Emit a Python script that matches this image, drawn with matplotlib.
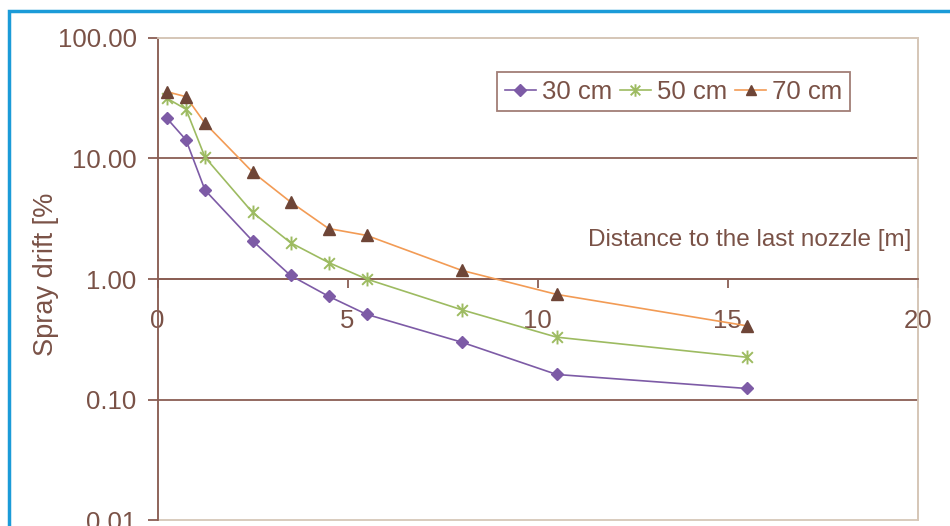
import matplotlib
matplotlib.use("Agg")
import matplotlib.pyplot as plt
from matplotlib.path import Path
from matplotlib.patches import Rectangle
from matplotlib.ticker import FixedLocator, NullLocator, FormatStrFormatter

# spray drift vs distance
distance = [0.25, 0.75, 1.25, 2.5, 3.5, 4.5, 5.5, 8, 10.5, 15.5]
drift_30 = [21.4, 14.2, 5.45, 2.07, 1.07, 0.72, 0.51, 0.30, 0.162, 0.124]
drift_50 = [31.4, 25.5, 10.2, 3.56, 2.0, 1.37, 1.0, 0.557, 0.33, 0.225]
drift_70 = [35.6, 32.4, 19.5, 7.7, 4.35, 2.62, 2.3, 1.18, 0.746, 0.41]
series_names = ["30 cm", "50 cm", "70 cm"]
y_ticks = [0.01, 0.1, 1, 10, 100]
x_ticks = [0, 5, 10, 15, 20]

text_col = "#7A5247"
axis_col = "#8A5E54"
frame_col = "#D6C7B8"

plt.rcParams["font.family"] = ["Liberation Sans", "DejaVu Sans"]
plt.rcParams["font.size"] = 18.5

fig = plt.figure(figsize=(9.5, 5.26), dpi=100)
ax = fig.add_axes([0.1658, 0.0105, 0.8003, 0.918])

# excel-like star marker: X plus a vertical bar
star = Path([(-1, -1), (1, 1), (-1, 1), (1, -1), (0, -1.3), (0, 1.3)],
            [Path.MOVETO, Path.LINETO, Path.MOVETO, Path.LINETO, Path.MOVETO, Path.LINETO])

ax.plot(distance, drift_30, color="#7D5BA6", lw=1.2, marker="D", ms=6.5,
        mfc="#7D5BA6", mec="#7D5BA6", label=series_names[0], zorder=4)
ax.plot(distance, drift_50, color="#9DBB61", lw=1.2, marker=star, ms=10,
        mec="#9DBB61", mew=1.4, label=series_names[1], zorder=4)
ax.plot(distance, drift_70, color="#F29B55", lw=1.2, marker="^", ms=8.5,
        mfc="#6E4537", mec="#6E4537", label=series_names[2], zorder=4)

ax.set_yscale("log")
ax.set_ylim(0.01, 100)
ax.set_xlim(0, 20)

ax.yaxis.set_major_locator(FixedLocator(y_ticks))
ax.yaxis.set_minor_locator(NullLocator())
ax.yaxis.set_major_formatter(FormatStrFormatter("%.2f"))
ax.xaxis.set_major_locator(FixedLocator(x_ticks))

ax.yaxis.grid(True, color=axis_col, lw=1.3)
grid = ax.get_ygridlines()
grid[0].set_visible(False)
grid[-1].set_visible(False)
ax.set_axisbelow(True)

# x axis crosses at 1.00
ax.spines["bottom"].set_position(("data", 1))
ax.spines["bottom"].set_color(axis_col)
ax.spines["bottom"].set_linewidth(1.3)
ax.spines["left"].set_color(axis_col)
ax.spines["left"].set_linewidth(1.3)
for side in ["top", "right"]:
    ax.spines[side].set_color(frame_col)
    ax.spines[side].set_linewidth(1.3)
ax.add_patch(Rectangle((0, 0), 1, 1, transform=ax.transAxes, fill=False,
                       edgecolor=frame_col, lw=1.3, clip_on=False, zorder=0))

ax.tick_params(axis="y", direction="out", length=7, width=1.3, color=axis_col,
               labelcolor=text_col, labelsize=18.5, pad=8)
ax.tick_params(axis="x", direction="out", length=6.5, width=1.3, color=axis_col,
               labelcolor=text_col, labelsize=18.5, pad=15)

ax.set_ylabel("Spray drift [%", color=text_col, fontsize=19.5)
ax.yaxis.set_label_coords(-0.13, 0.51)
ax.text(0.992, 0.581, "Distance to the last nozzle [m]", transform=ax.transAxes,
        ha="right", va="center", color=text_col, fontsize=17.5)

leg = ax.legend(loc="upper left", bbox_to_anchor=(497 / 950, 1 - 72 / 526),
                bbox_transform=fig.transFigure, borderaxespad=0, ncol=3,
                fancybox=False, frameon=True, handlelength=1.2, handletextpad=0.25,
                columnspacing=0.3, borderpad=0.3, fontsize=18.5, markerscale=0.9)
leg.get_frame().set_edgecolor(axis_col)
leg.get_frame().set_linewidth(1.3)
for t in leg.get_texts():
    t.set_color(text_col)

# blue frame around the whole figure
fig.patches.append(Rectangle((9 / 950, -0.1), 1.0, 1 - 11 / 526 + 0.1,
                             transform=fig.transFigure, fill=False,
                             edgecolor="#1B9BD8", lw=2.5))

fig.savefig("out.png", dpi=100)
